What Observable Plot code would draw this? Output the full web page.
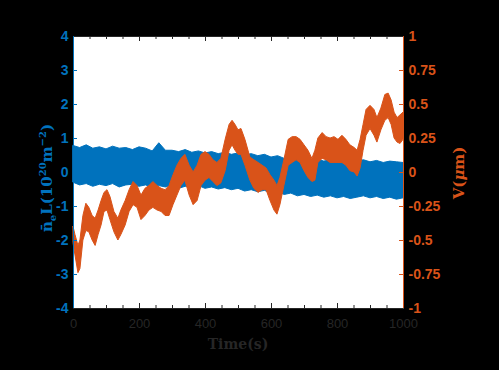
<!DOCTYPE html>
<html><head><meta charset="utf-8">
<script src="https://cdn.jsdelivr.net/npm/d3@7"></script>
<script src="https://cdn.jsdelivr.net/npm/@observablehq/plot@0.6"></script>
<style>body{margin:0;background:#000;}</style>
</head><body><div id="chart"></div>
<script>
// Blue series: n_e L (left axis), upper / lower envelope of the dense signal
const blueT = [0,20,40,60,80,100,120,140,160,180,200,220,240,260,280,300,320,340,360,380,400,420,440,460,480,500,520,540,560,580,600,620,640,660,680,700,720,740,760,780,800,820,840,860,880,900,920,940,960,980,1000];
const blueHi = [0.78,0.72,0.80,0.70,0.74,0.68,0.76,0.70,0.72,0.66,0.74,0.70,0.62,0.86,0.64,0.64,0.60,0.66,0.58,0.62,0.56,0.60,0.54,0.58,0.52,0.56,0.50,0.54,0.48,0.52,0.44,0.48,0.40,0.44,0.36,0.40,0.34,0.38,0.32,0.36,0.30,0.34,0.28,0.32,0.36,0.30,0.34,0.28,0.32,0.30,0.28];
const blueLo = [-0.30,-0.38,-0.34,-0.42,-0.36,-0.40,-0.34,-0.44,-0.38,-0.36,-0.42,-0.38,-0.46,-0.40,-0.44,-0.38,-0.48,-0.42,-0.46,-0.40,-0.48,-0.44,-0.50,-0.46,-0.52,-0.48,-0.56,-0.52,-0.58,-0.54,-0.62,-0.58,-0.66,-0.62,-0.70,-0.66,-0.72,-0.68,-0.74,-0.70,-0.76,-0.72,-0.78,-0.74,-0.70,-0.76,-0.72,-0.78,-0.74,-0.80,-0.76];

// Orange series: V (um) (right axis), upper / lower envelope
const orangeT = [0,6,15,21,30,39,48,58,67,76,85,94,103,112,124,136,145,158,170,182,194,206,218,230,242,255,267,279,291,303,315,327,339,352,364,376,388,400,412,424,436,448,461,473,482,491,500,509,521,536,548,561,573,585,597,609,618,627,639,652,664,676,688,700,712,724,733,742,755,767,779,791,803,815,827,839,852,861,870,879,888,900,912,921,933,945,955,964,973,982,991,1000];
const orangeHi = [-0.40,-0.46,-0.54,-0.50,-0.32,-0.23,-0.26,-0.32,-0.34,-0.28,-0.21,-0.15,-0.13,-0.18,-0.29,-0.34,-0.28,-0.21,-0.13,-0.07,-0.10,-0.17,-0.12,-0.10,-0.07,-0.10,-0.12,-0.13,-0.10,-0.02,0.05,0.10,0.13,0.05,0.00,0.05,0.13,0.15,0.13,0.09,0.07,0.10,0.24,0.35,0.38,0.35,0.31,0.32,0.24,0.11,0.09,0.07,0.05,0.03,-0.02,-0.06,-0.10,-0.04,0.09,0.24,0.26,0.26,0.24,0.20,0.16,0.10,0.16,0.25,0.29,0.26,0.25,0.26,0.24,0.27,0.24,0.20,0.18,0.16,0.24,0.35,0.46,0.49,0.46,0.40,0.47,0.57,0.58,0.53,0.44,0.40,0.42,0.44];
const orangeLo = [-0.52,-0.61,-0.74,-0.71,-0.50,-0.43,-0.44,-0.50,-0.54,-0.46,-0.39,-0.29,-0.28,-0.35,-0.44,-0.50,-0.46,-0.39,-0.29,-0.24,-0.26,-0.35,-0.32,-0.28,-0.26,-0.28,-0.29,-0.32,-0.32,-0.24,-0.17,-0.10,-0.06,-0.17,-0.24,-0.21,-0.10,-0.06,-0.04,-0.07,-0.10,-0.08,0.01,0.16,0.20,0.16,0.13,0.13,0.05,-0.06,-0.12,-0.15,-0.13,-0.13,-0.21,-0.28,-0.31,-0.24,-0.10,0.05,0.07,0.09,0.07,0.01,-0.04,-0.07,-0.06,0.07,0.10,0.09,0.07,0.07,0.07,0.07,0.05,0.01,0.00,-0.03,0.03,0.16,0.27,0.32,0.27,0.22,0.31,0.38,0.40,0.35,0.25,0.22,0.21,0.24];

// Ticks
const xTicks = [0,200,400,600,800,1000];
const xMinorTicks = [50,100,150,250,300,350,450,500,550,650,700,750,850,900,950];
const leftTicks = [-4,-3,-2,-1,0,1,2,3,4];
const rightTicks = [-1,-0.75,-0.5,-0.25,0,0.25,0.5,0.75,1];

const BLUE = "#0072BD", ORANGE = "#D95319", GRAY = "#262626";
const K = 4; // right axis (V) -> left axis units
const FH = 370 - 36 - 62; // frame height in px
const FW = 499 - 73 - 96; // frame width in px

const blue = blueT.map((t, i) => ({t, hi: blueHi[i], lo: blueLo[i]}));
const orange = orangeT.map((t, i) => ({t, hi: orangeHi[i], lo: orangeLo[i]}));

const chart = Plot.plot({
  width: 499, height: 370,
  marginLeft: 73, marginRight: 96, marginTop: 36, marginBottom: 62,
  style: {background: "#000", fontFamily: "'Liberation Sans', Arial, sans-serif"},
  x: {domain: [0, 1000], axis: null},
  y: {domain: [-4, 4], axis: null},
  marks: [
    Plot.frame({fill: "white", stroke: "none"}),
    Plot.areaY(blue, {x: "t", y1: "lo", y2: "hi", fill: BLUE, stroke: BLUE, strokeWidth: 1}),
    Plot.areaY(orange, {x: "t", y1: d => d.lo * K, y2: d => d.hi * K, fill: ORANGE, stroke: ORANGE, strokeWidth: 1}),
    // x ticks (inward, bottom and top)
    Plot.ruleX(xTicks, {x: d => d, insetTop: FH - 5, stroke: GRAY}),
    Plot.ruleX(xTicks, {x: d => d, insetBottom: FH - 5, stroke: GRAY}),
    Plot.ruleX(xMinorTicks, {x: d => d, insetTop: FH - 3, stroke: GRAY}),
    Plot.ruleX(xMinorTicks, {x: d => d, insetBottom: FH - 3, stroke: GRAY}),
    // y ticks (inward)
    Plot.ruleY(leftTicks, {y: d => d, insetRight: FW - 4, stroke: BLUE}),
    Plot.ruleY(rightTicks, {y: d => d * K, insetLeft: FW - 4, stroke: ORANGE}),
    // frame borders
    Plot.ruleY([4], {stroke: GRAY}),
    Plot.ruleY([-4], {stroke: GRAY}),
    Plot.ruleX([0], {stroke: BLUE}),
    Plot.ruleX([1000], {stroke: ORANGE}),
    // tick labels
    Plot.text(leftTicks, {y: d => d, frameAnchor: "left", dx: -5, textAnchor: "end", text: d => String(d), fill: BLUE, fontWeight: "bold", fontSize: 14}),
    Plot.text(rightTicks, {y: d => d * K, frameAnchor: "right", dx: 5, textAnchor: "start", text: d => String(d), fill: ORANGE, fontWeight: "bold", fontSize: 14}),
    Plot.text(xTicks, {x: d => d, frameAnchor: "bottom", dy: 19, text: d => String(d), fill: GRAY, fontSize: 13})
  ]
});

const svg = d3.select(chart);
const serif = "'DejaVu Serif', 'Liberation Serif', serif";
// x label
svg.append("text").attr("x", 238).attr("y", 349).attr("text-anchor", "middle")
  .attr("font-family", serif).attr("font-weight", "bold").attr("font-size", 14).attr("fill", GRAY)
  .text("Time(s)");
// left label
const ll = svg.append("text").attr("transform", "translate(52,178) rotate(-90)").attr("text-anchor", "middle")
  .attr("font-family", serif).attr("font-weight", "bold").attr("font-size", 15).attr("fill", BLUE);
ll.append("tspan").text("n\u0304");
ll.append("tspan").attr("dy", 4).attr("font-size", 10).text("e");
ll.append("tspan").attr("dy", -4).text("L(10");
ll.append("tspan").attr("dy", -6).attr("font-size", 10).text("20");
ll.append("tspan").attr("dy", 6).text("m");
ll.append("tspan").attr("dy", -6).attr("font-size", 10).text("\u22122");
ll.append("tspan").attr("dy", 6).text(")");
// right label
const rl = svg.append("text").attr("transform", "translate(464,173) rotate(-90)").attr("text-anchor", "middle")
  .attr("font-family", serif).attr("font-weight", "bold").attr("font-size", 15).attr("fill", ORANGE);
rl.append("tspan").text("V(");
rl.append("tspan").attr("font-style", "italic").text("\u03bc");
rl.append("tspan").text("m)");

document.getElementById("chart").append(chart);
</script>
</body></html>
